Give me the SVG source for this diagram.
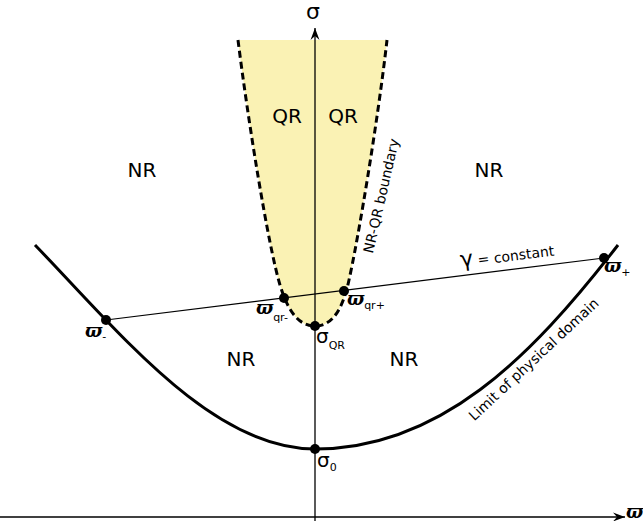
<svg xmlns="http://www.w3.org/2000/svg" width="643" height="521" viewBox="0 0 643 521">
<defs>
<marker id="arr" viewBox="-12 -5 13 10" markerWidth="13" markerHeight="10" refX="0" refY="0" orient="auto" markerUnits="userSpaceOnUse">
<path d="M0,0 L-12,-4.5 L-8,0 L-12,4.5 Z" fill="#000"/>
</marker>
</defs>
<style>
.lbl{font-family:"DejaVu Sans","Liberation Sans",sans-serif;fill:#000}
.big{font-size:20px}
.small{font-size:14px}
.w{font-family:"DejaVu Serif","Liberation Serif",serif;font-style:italic;font-weight:bold;font-size:18px;fill:#000}
.sub{font-family:"DejaVu Sans","Liberation Sans",sans-serif;font-size:11px;fill:#000;font-style:normal;font-weight:normal}
.dot{fill:#000}
.axis{stroke:#000;stroke-width:1.3;fill:none}
</style>
<g id="qr-region">
<path d="M238,40 C248,120 268,245 280,285 C287,308 297,326 315,326 C333,326 343,308 349,280 C358,240 378,120 387,40" fill="#faf2b4" stroke="#000" stroke-width="3" stroke-dasharray="7,4"/>
</g>
<g id="connectors">
<line class="axis" x1="315" y1="521" x2="315" y2="28" marker-end="url(#arr)"/>
<line class="axis" x1="0" y1="517" x2="625" y2="517" marker-end="url(#arr)"/>
<path id="physical" d="M35,245 C120,333 212,449 315,449 C439,449 530,359 618,245" fill="none" stroke="#000" stroke-width="3"/>
<line x1="106" y1="320" x2="604" y2="258" stroke="#000" stroke-width="1.2"/>
</g>
<g id="axis-labels">
<text class="lbl" x="313" y="19" font-size="22" text-anchor="middle">σ</text>
<text class="w" x="626" y="518" font-size="15">ϖ</text>
</g>
<g id="regions">
<text class="lbl big" x="287" y="123" text-anchor="middle">QR</text>
<text class="lbl big" x="343" y="123" text-anchor="middle">QR</text>
<text class="lbl big" x="142" y="177" text-anchor="middle">NR</text>
<text class="lbl big" x="489" y="177" text-anchor="middle">NR</text>
<text class="lbl big" x="241" y="366" text-anchor="middle">NR</text>
<text class="lbl big" x="404" y="366" text-anchor="middle">NR</text>
</g>
<g id="boundary-label">
<text class="lbl small" transform="translate(386,197) rotate(-77)" text-anchor="middle">NR-QR boundary</text>
</g>
<g id="gamma-label">
<text class="lbl" transform="translate(461,267) rotate(-7)"><tspan font-size="22">γ</tspan><tspan font-size="14"> = constant</tspan></text>
</g>
<g id="domain-label">
<text class="lbl small" transform="translate(537,363) rotate(-43)" text-anchor="middle">Limit of physical domain</text>
</g>
<g id="w-minus">
<circle class="dot" cx="106" cy="320" r="5"/>
<text class="w" x="85" y="337">ϖ<tspan class="sub" dy="3">-</tspan></text>
</g>
<g id="w-plus">
<circle class="dot" cx="604" cy="258" r="5"/>
<text class="w" x="604" y="272">ϖ<tspan class="sub" dy="4">+</tspan></text>
</g>
<g id="w-qr-minus">
<circle class="dot" cx="284" cy="298" r="5"/>
<text class="w" x="256" y="314">ϖ<tspan class="sub" dy="7">qr-</tspan></text>
</g>
<g id="w-qr-plus">
<circle class="dot" cx="344" cy="291" r="5"/>
<text class="w" x="347" y="305">ϖ<tspan class="sub" dy="4">qr+</tspan></text>
</g>
<g id="sigma-qr">
<circle class="dot" cx="315" cy="326" r="5"/>
<text class="lbl" x="316" y="343" font-size="20">σ<tspan class="sub" dy="6">QR</tspan></text>
</g>
<g id="sigma-0">
<circle class="dot" cx="315" cy="449" r="5"/>
<text class="lbl" x="317" y="467" font-size="20">σ<tspan class="sub" font-size="13" dy="4">0</tspan></text>
</g>
</svg>
